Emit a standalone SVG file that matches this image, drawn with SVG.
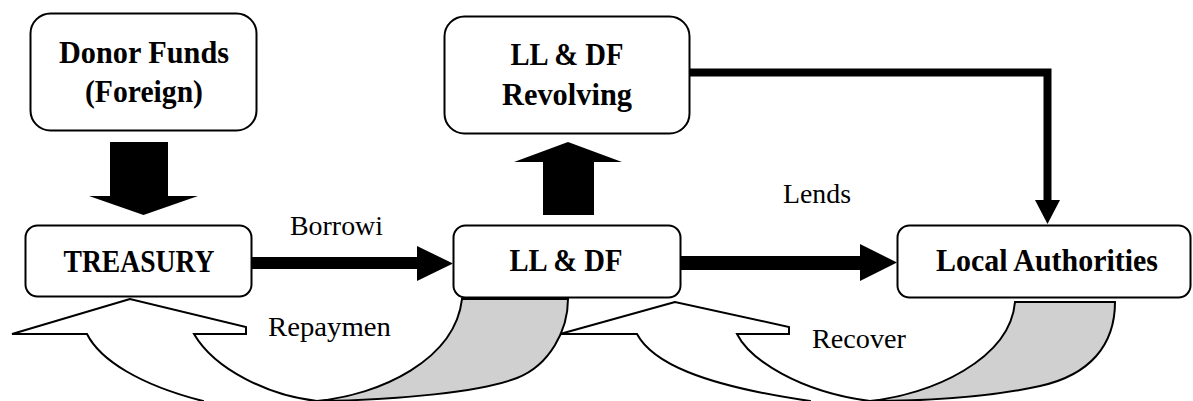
<svg xmlns="http://www.w3.org/2000/svg" width="1193" height="401" viewBox="0 0 1193 401">
<style>
.box{fill:#fff;stroke:#000;stroke-width:2}
.nt{font-family:"Liberation Serif","Times New Roman",serif;font-weight:bold;font-size:31px;fill:#000;text-anchor:middle}
.lb{font-family:"Liberation Serif","Times New Roman",serif;font-size:28px;fill:#000}
.blk{fill:#000;stroke:none}
.band{fill:#fff;stroke:#000;stroke-width:2;stroke-linejoin:miter}
.back{fill:#cfd0cf;stroke:#000;stroke-width:2}
</style>
<rect width="1193" height="401" fill="#fff"/>
<g id="connectors">
  <!-- curved return arrow: Repayment -->
  <path class="back" d="M462,299 L568,299 C568,330 550,365 517,378 C480,392 400,400 317,401 C380,395 455,360 462,299 Z"/>
  <path class="band" d="M130,299 L12,334 L87,334 C100,360 140,385 203,401 L203,412 L317,412 L317,401 C270,396 215,370 194,334 L246,334 L246,327 Z"/>
  <!-- curved return arrow: Recover -->
  <path class="back" d="M1015,302 L1115,302 C1115,345 1090,375 1040,386 C990,397 930,401 870,401 C930,395 1010,360 1015,302 Z"/>
  <path class="band" d="M675,302 L560,334 L637,334 C652,362 700,385 810,401 L810,412 L870,412 L870,401 C800,392 750,360 737,334 L789,334 L789,327 Z"/>
  <!-- Donor -> Treasury -->
  <polygon class="blk" points="110,142 168,142 168,196 198,196 143.5,215 89,196 110,196"/>
  <!-- LL&DF -> Revolving -->
  <polygon class="blk" points="543,215 594,215 594,162 622,162 568,142 514,162 543,162"/>
  <!-- Treasury -> LL&DF (Borrowing) -->
  <polygon class="blk" points="252,257 417,257 417,246 453,263.5 417,281 417,269 252,269"/>
  <!-- LL&DF -> Local Authorities (Lends) -->
  <polygon class="blk" points="681,256 860,256 860,244 897,262.5 860,281 860,270 681,270"/>
  <!-- Revolving -> Local Authorities -->
  <polyline points="690,72.5 1047.5,72.5 1047.5,201" fill="none" stroke="#000" stroke-width="8"/>
  <polygon class="blk" points="1035,200 1060,200 1047.5,224"/>
  <text class="lb" x="290" y="235" textLength="93" lengthAdjust="spacingAndGlyphs">Borrowi</text>
  <text class="lb" x="783" y="203" textLength="68" lengthAdjust="spacingAndGlyphs">Lends</text>
  <text class="lb" x="268" y="336" textLength="123" lengthAdjust="spacingAndGlyphs">Repaymen</text>
  <text class="lb" x="812" y="348" textLength="94" lengthAdjust="spacingAndGlyphs">Recover</text>
</g>
<g id="donor">
  <rect class="box" x="30.5" y="13.5" width="226" height="117" rx="20"/>
  <text class="nt" x="144" y="63" textLength="170" lengthAdjust="spacingAndGlyphs">Donor Funds</text>
  <text class="nt" x="144" y="102" textLength="118" lengthAdjust="spacingAndGlyphs">(Foreign)</text>
</g>
<g id="revolving">
  <rect class="box" x="444.5" y="16.5" width="245" height="117" rx="20"/>
  <text class="nt" x="567" y="65" textLength="113" lengthAdjust="spacingAndGlyphs">LL &amp; DF</text>
  <text class="nt" x="567" y="105" textLength="130" lengthAdjust="spacingAndGlyphs">Revolving</text>
</g>
<g id="treasury">
  <rect class="box" x="25.5" y="225.5" width="226" height="71" rx="12"/>
  <text class="nt" x="139" y="272" textLength="151" lengthAdjust="spacingAndGlyphs">TREASURY</text>
</g>
<g id="lldf">
  <rect class="box" x="453.5" y="225.5" width="227" height="72" rx="12"/>
  <text class="nt" x="566" y="271" textLength="113" lengthAdjust="spacingAndGlyphs">LL &amp; DF</text>
</g>
<g id="local">
  <rect class="box" x="897.5" y="225.5" width="293" height="72" rx="12"/>
  <text class="nt" x="1047" y="271" textLength="222" lengthAdjust="spacingAndGlyphs">Local Authorities</text>
</g>
</svg>
